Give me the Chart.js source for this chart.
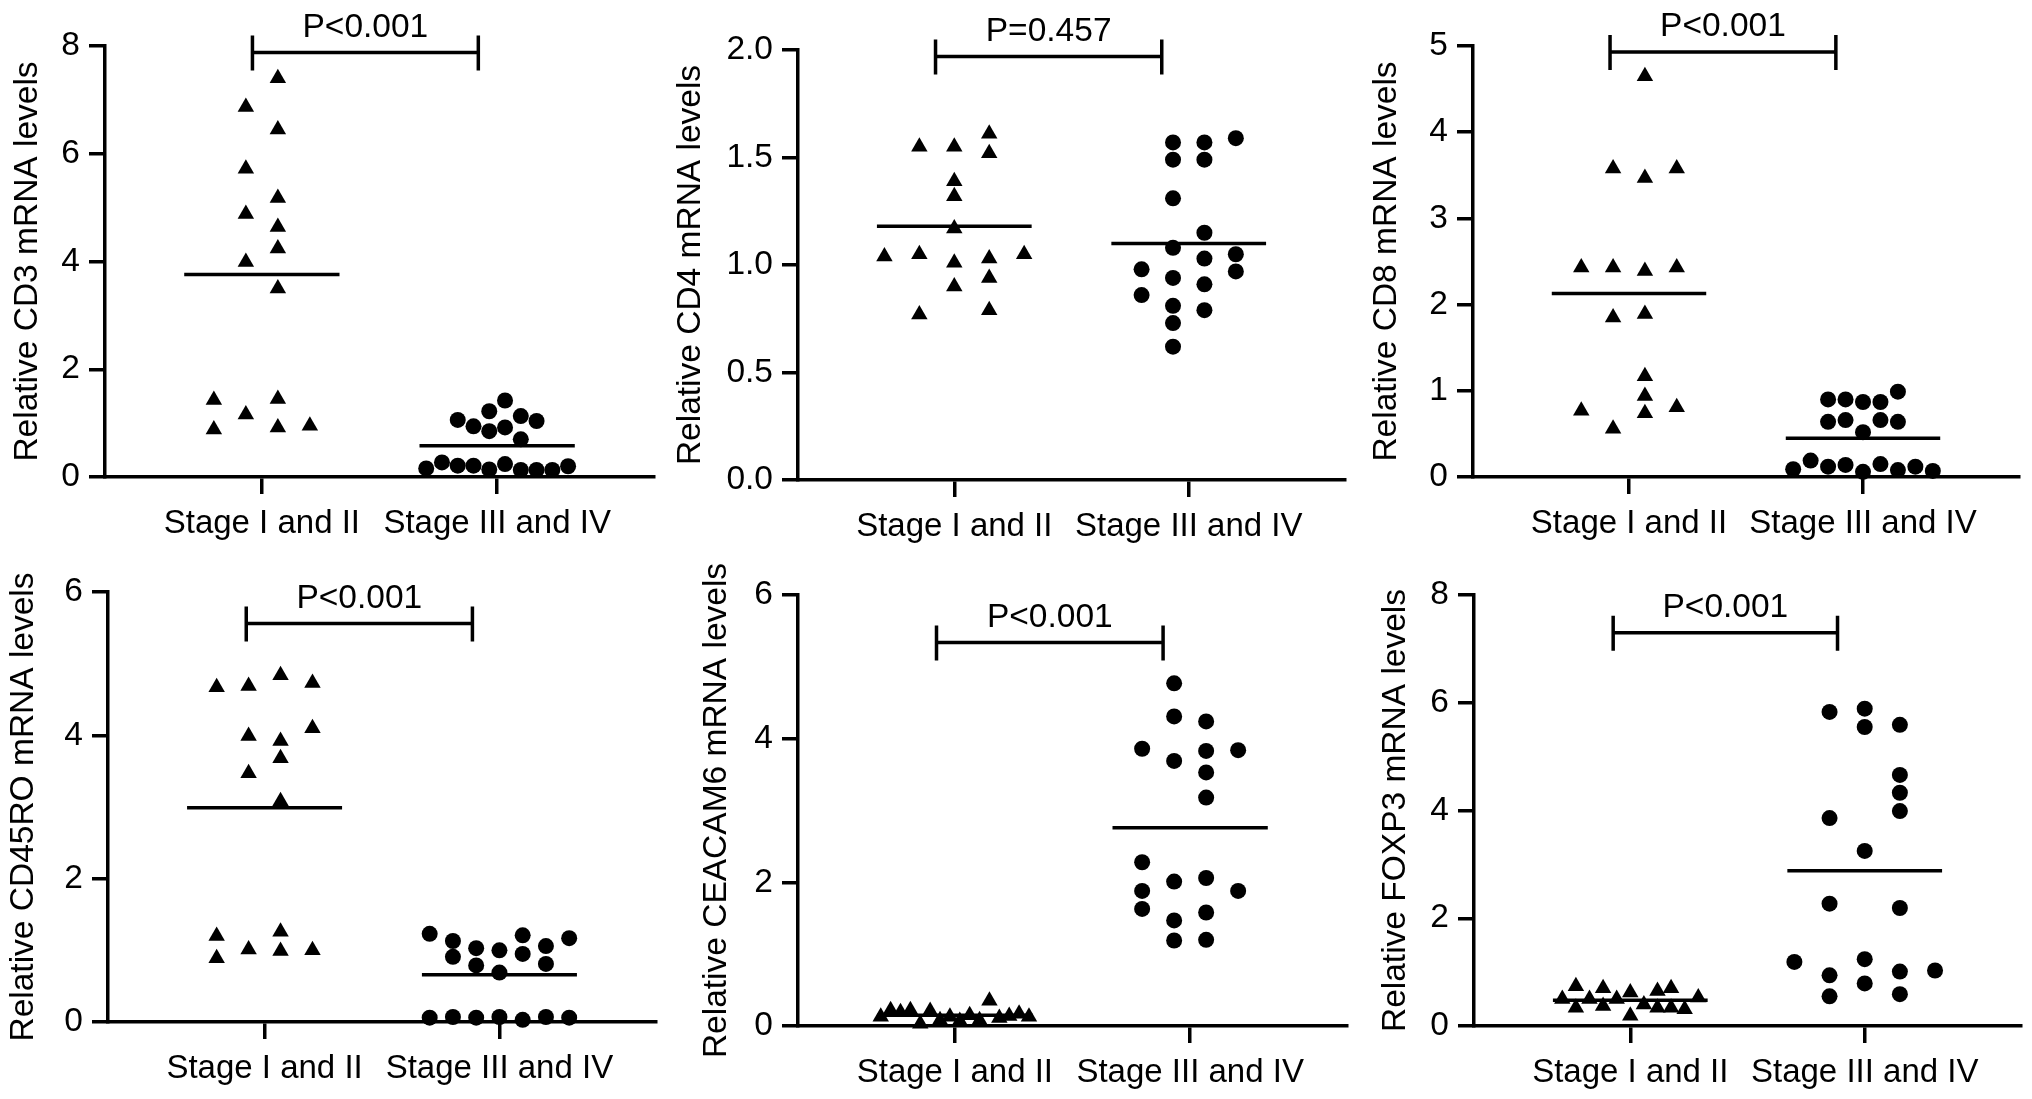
<!DOCTYPE html>
<html><head><meta charset="utf-8">
<script src="https://cdn.jsdelivr.net/npm/chart.js@4.4.1/dist/chart.umd.min.js"></script>
<style>
html,body{margin:0;padding:0;background:#fff;}
#wrap{position:relative;width:2032px;height:1099px;overflow:hidden;background:#fff;}
canvas{position:absolute;}
</style></head><body><div id="wrap"></div>
<script>
// ---------- categories / labels ----------
const categories = ['Stage I and II', 'Stage III and IV'];
const yTitles = ['Relative CD3 mRNA levels', 'Relative CD4 mRNA levels', 'Relative CD8 mRNA levels',
                 'Relative CD45RO mRNA levels', 'Relative CEACAM6 mRNA levels', 'Relative FOXP3 mRNA levels'];
const pLabels = ['P<0.001', 'P=0.457', 'P<0.001', 'P<0.001', 'P<0.001', 'P<0.001'];
const cd3Ticks = ['0', '2', '4', '6', '8'];
const cd4Ticks = ['0.0', '0.5', '1.0', '1.5', '2.0'];
const cd8Ticks = ['0', '1', '2', '3', '4', '5'];
const cd45Ticks = ['0', '2', '4', '6'];
const ceacamTicks = ['0', '2', '4', '6'];
const foxp3Ticks = ['0', '2', '4', '6', '8'];

// ---------- CD3 ----------
const cd3Early = [7.40, 6.87, 6.45, 5.72, 5.18, 4.88, 4.64, 4.24, 3.99, 3.50, 1.43, 1.45, 1.16, 0.88, 0.92, 0.95];
const cd3EarlyCol = [0.5, -0.5, 0.5, -0.5, 0.5, -0.5, 0.5, 0.5, -0.5, 0.5, -1.5, 0.5, -0.5, -1.5, 0.5, 1.5];
const cd3Late = [1.42, 1.22, 1.06, 1.13, 1.04, 0.94, 0.85, 0.92, 0.70, 0.16, 0.27, 0.21, 0.21, 0.14, 0.24, 0.13, 0.13, 0.13, 0.20];
const cd3LateCol = [0.5, -0.5, -2.5, 1.5, 2.5, -1.5, -0.5, 0.5, 1.5, -4.5, -3.5, -2.5, -1.5, -0.5, 0.5, 1.5, 2.5, 3.5, 4.5];
const cd3Means = [3.76, 0.58];

// ---------- CD4 ----------
const cd4Early = [1.04, 1.55, 0.77, 1.05, 1.55, 1.39, 1.32, 1.17, 1.01, 0.90, 1.61, 1.52, 1.03, 0.94, 0.79, 1.05];
const cd4EarlyCol = [-2, -1, -1, -1, 0, 0, 0, 0, 0, 0, 1, 1, 1, 1, 1, 2];
const cd4Late = [1.57, 1.49, 1.31, 1.08, 0.94, 0.81, 0.73, 0.62, 0.98, 0.86, 1.57, 1.49, 1.15, 1.03, 0.91, 0.79, 1.59, 1.05, 0.97];
const cd4LateCol = [-0.5, -0.5, -0.5, -0.5, -0.5, -0.5, -0.5, -0.5, -1.5, -1.5, 0.5, 0.5, 0.5, 0.5, 0.5, 0.5, 1.5, 1.5, 1.5];
const cd4Means = [1.18, 1.10];

// ---------- CD8 ----------
const cd8Early = [4.65, 3.58, 3.47, 3.58, 2.43, 2.43, 2.39, 2.43, 1.85, 1.89, 1.17, 0.94, 0.77, 0.81, 0.74, 0.56];
const cd8EarlyCol = [0.5, -0.5, 0.5, 1.5, -1.5, -0.5, 0.5, 1.5, -0.5, 0.5, 0.5, 0.5, -1.5, 1.5, 0.5, -0.5];
const cd8Late = [0.90, 0.90, 0.87, 0.87, 0.99, 0.64, 0.66, 0.66, 0.64, 0.52, 0.09, 0.19, 0.12, 0.14, 0.06, 0.15, 0.08, 0.12, 0.07];
const cd8LateCol = [-2, -1, 0, 1, 2, -2, -1, 1, 2, 0, -4, -3, -2, -1, 0, 1, 2, 3, 4];
const cd8Means = [2.13, 0.45];

// ---------- CD45RO ----------
const cd45Early = [4.84, 4.67, 4.69, 4.73, 4.10, 3.99, 3.92, 3.68, 3.47, 3.08, 1.20, 1.26, 1.01, 0.99, 1.00, 0.89];
const cd45EarlyCol = [0.5, -1.5, -0.5, 1.5, 1.5, -0.5, 0.5, 0.5, -0.5, 0.5, -1.5, 0.5, -0.5, 0.5, 1.5, -1.5];
const cd45Late = [1.23, 1.13, 0.91, 1.03, 0.79, 1.00, 0.69, 1.21, 0.95, 1.06, 0.81, 1.17, 0.06, 0.07, 0.06, 0.07, 0.03, 0.07, 0.06];
const cd45LateCol = [-3, -2, -2, -1, -1, 0, 0, 1, 1, 2, 2, 3, -3, -2, -1, 0, 1, 2, 3];
const cd45Means = [2.99, 0.66];

// ---------- CEACAM6 ----------
const ceacamEarly = [0.13, 0.22, 0.19, 0.22, 0.03, 0.21, 0.08, 0.13, 0.07, 0.15, 0.08, 0.35, 0.11, 0.14, 0.17, 0.13];
const ceacamEarlyCol = [-7.5, -6.5, -5.5, -4.5, -3.5, -2.5, -1.5, -0.5, 0.5, 1.5, 2.5, 3.5, 4.5, 5.5, 6.5, 7.5];
const ceacamLate = [4.77, 4.31, 4.24, 3.86, 3.83, 3.84, 3.69, 3.53, 3.18, 2.28, 2.01, 2.06, 1.88, 1.88, 1.63, 1.58, 1.47, 1.19, 1.20];
const ceacamLateCol = [-0.5, -0.5, 0.5, -1.5, 0.5, 1.5, -0.5, 0.5, 0.5, -1.5, -0.5, 0.5, -1.5, 1.5, -1.5, 0.5, -0.5, -0.5, 0.5];
const ceacamMeans = [0.15, 2.76];

// ---------- FOXP3 ----------
const foxp3Early = [0.50, 0.74, 0.34, 0.50, 0.70, 0.37, 0.50, 0.62, 0.19, 0.40, 0.65, 0.34, 0.70, 0.34, 0.31, 0.53];
const foxp3EarlyCol = [-5, -4, -4, -3, -2, -2, -1, 0, 0, 1, 2, 2, 3, 3, 4, 5];
const foxp3Late = [5.83, 5.89, 5.55, 5.59, 4.66, 4.33, 3.99, 3.86, 3.25, 2.27, 2.19, 1.19, 1.24, 1.03, 1.01, 0.94, 0.79, 0.55, 0.59];
const foxp3LateCol = [-1, 0, 0, 1, 1, 1, 1, -1, 0, -1, 1, -2, 0, 2, 1, -1, 0, -1, 1];
const foxp3Means = [0.48, 2.88];

// ---------- layout (positions / styles only) ----------
const FONT = '"Liberation Sans", Arial, Helvetica, sans-serif';
const panels = [
  {early: cd3Early, eCol: cd3EarlyCol, late: cd3Late, lCol: cd3LateCol, means: cd3Means, ticks: cd3Ticks,
   box: [104.6, 45.8, 654, 476.7], titleX: 27, eStep: 0.136, lStep: 0.067, bracket: [0.96, 1.92, 7.88]},
  {early: cd4Early, eCol: cd4EarlyCol, late: cd4Late, lCol: cd4LateCol, means: cd4Means, ticks: cd4Ticks,
   box: [797.7, 50, 1344.8, 479.5], titleX: 690, eStep: 0.149, lStep: 0.134, bracket: [0.92, 1.885, 1.97]},
  {early: cd8Early, eCol: cd8EarlyCol, late: cd8Late, lCol: cd8LateCol, means: cd8Means, ticks: cd8Ticks,
   box: [1473, 45.8, 2019, 476.7], titleX: 1387, eStep: 0.136, lStep: 0.0746, bracket: [0.919, 1.884, 4.93]},
  {early: cd45Early, eCol: cd45EarlyCol, late: cd45Late, lCol: cd45LateCol, means: cd45Means, ticks: cd45Ticks,
   box: [108, 592, 656, 1021.5], titleX: 24, eStep: 0.136, lStep: 0.099, bracket: [0.922, 1.885, 5.56]},
  {early: ceacamEarly, eCol: ceacamEarlyCol, late: ceacamLate, lCol: ceacamLateCol, means: ceacamMeans, ticks: ceacamTicks,
   box: [797.7, 594.8, 1347, 1025.7], titleX: 716, eStep: 0.042, lStep: 0.136, bracket: [0.922, 1.885, 5.34]},
  {early: foxp3Early, eCol: foxp3EarlyCol, late: foxp3Late, lCol: foxp3LateCol, means: foxp3Means, ticks: foxp3Ticks,
   box: [1474, 594.8, 2021, 1025.7], titleX: 1396, eStep: 0.058, lStep: 0.15, bracket: [0.927, 1.884, 7.30]}
];

const PAD_L = 125, PAD_T = 50, PAD_R = 14, PAD_B = 80;
const LW = 3.5;
const TXT = 33.5;

const bracketPlugin = {
  id: 'bracket',
  afterDraw(chart, args, opts) {
    const {ctx} = chart;
    const xs = chart.scales.x, ys = chart.scales.y;
    const x1 = xs.getPixelForValue(opts.from), x2 = xs.getPixelForValue(opts.to);
    const yy = ys.getPixelForValue(opts.level);
    ctx.save();
    ctx.strokeStyle = '#000';
    ctx.lineWidth = LW;
    ctx.lineCap = 'butt';
    ctx.beginPath();
    ctx.moveTo(x1, yy); ctx.lineTo(x2, yy);
    ctx.moveTo(x1, yy - 17); ctx.lineTo(x1, yy + 18);
    ctx.moveTo(x2, yy - 17); ctx.lineTo(x2, yy + 18);
    ctx.stroke();
    ctx.fillStyle = '#000';
    ctx.font = TXT + 'px ' + FONT;
    ctx.textAlign = 'center';
    ctx.textBaseline = 'middle';
    ctx.fillText(opts.text, (x1 + x2) / 2, yy - 25);
    ctx.restore();
  }
};

const wrap = document.getElementById('wrap');
panels.forEach((p, i) => {
  const [aL, aT, aR, aB] = p.box;
  const left = aL - PAD_L, top = aT - PAD_T;
  const w = Math.round((aR + PAD_R) - left), h = Math.round((aB + PAD_B) - top);
  const cv = document.createElement('canvas');
  cv.width = w; cv.height = h;
  cv.style.left = left + 'px'; cv.style.top = top + 'px';
  cv.style.width = w + 'px'; cv.style.height = h + 'px';
  wrap.appendChild(cv);
  const tickVals = p.ticks.map(Number);
  const yMax = tickVals[tickVals.length - 1];
  const earlyPts = p.early.map((v, k) => ({x: 1 + p.eCol[k] * p.eStep, y: v}));
  const latePts = p.late.map((v, k) => ({x: 2 + p.lCol[k] * p.lStep, y: v}));
  const meanLine = (g, m) => [{x: g - 0.33, y: m}, {x: g + 0.33, y: m}];
  new Chart(cv, {
    type: 'scatter',
    data: {
      datasets: [
        {type: 'line', data: meanLine(1, p.means[0]), borderColor: '#000', borderWidth: LW, pointRadius: 0, fill: false, clip: false},
        {type: 'line', data: meanLine(2, p.means[1]), borderColor: '#000', borderWidth: LW, pointRadius: 0, fill: false, clip: false},
        {label: categories[0], data: earlyPts, pointStyle: 'triangle', pointRadius: 9.5, backgroundColor: '#000', borderColor: '#000', borderWidth: 0, clip: false},
        {label: categories[1], data: latePts, pointStyle: 'circle', pointRadius: 8, backgroundColor: '#000', borderColor: '#000', borderWidth: 0, clip: false}
      ]
    },
    options: {
      responsive: false, animation: false, devicePixelRatio: 1,
      events: [],
      layout: {padding: {left: 0, top: PAD_T, right: PAD_R, bottom: 0}},
      plugins: {
        legend: {display: false}, tooltip: {enabled: false},
        bracket: {from: p.bracket[0], to: p.bracket[1], level: p.bracket[2], text: pLabels[i]}
      },
      scales: {
        x: {
          type: 'linear', min: 1 / 3, max: 8 / 3,
          afterBuildTicks: s => { s.ticks = [{value: 1}, {value: 2}]; },
          afterFit: s => { s.height = PAD_B; },
          ticks: {callback: v => categories[Math.round(v) - 1], color: '#000', font: {size: 33, family: FONT}, padding: 10, maxRotation: 0, autoSkip: false},
          grid: {drawOnChartArea: false, drawTicks: true, tickLength: 17, color: '#000', lineWidth: LW},
          border: {display: true, color: '#000', width: LW}
        },
        y: {
          type: 'linear', min: 0, max: yMax,
          afterBuildTicks: s => { s.ticks = tickVals.map(v => ({value: v})); },
          afterFit: s => { s.width = PAD_L; },
          ticks: {callback: (v, idx) => p.ticks[idx], color: '#000', font: {size: TXT, family: FONT}, padding: 9},
          grid: {drawOnChartArea: false, drawTicks: true, tickLength: 16, color: '#000', lineWidth: LW},
          border: {display: true, color: '#000', width: LW},
          title: {display: true, text: yTitles[i], color: '#000', font: {size: TXT, family: FONT, lineHeight: 1},
                  padding: {top: Math.max(0, (p.titleX - left) - TXT / 2), bottom: 0}}
        }
      }
    },
    plugins: [bracketPlugin]
  });
});
</script>
</body></html>
